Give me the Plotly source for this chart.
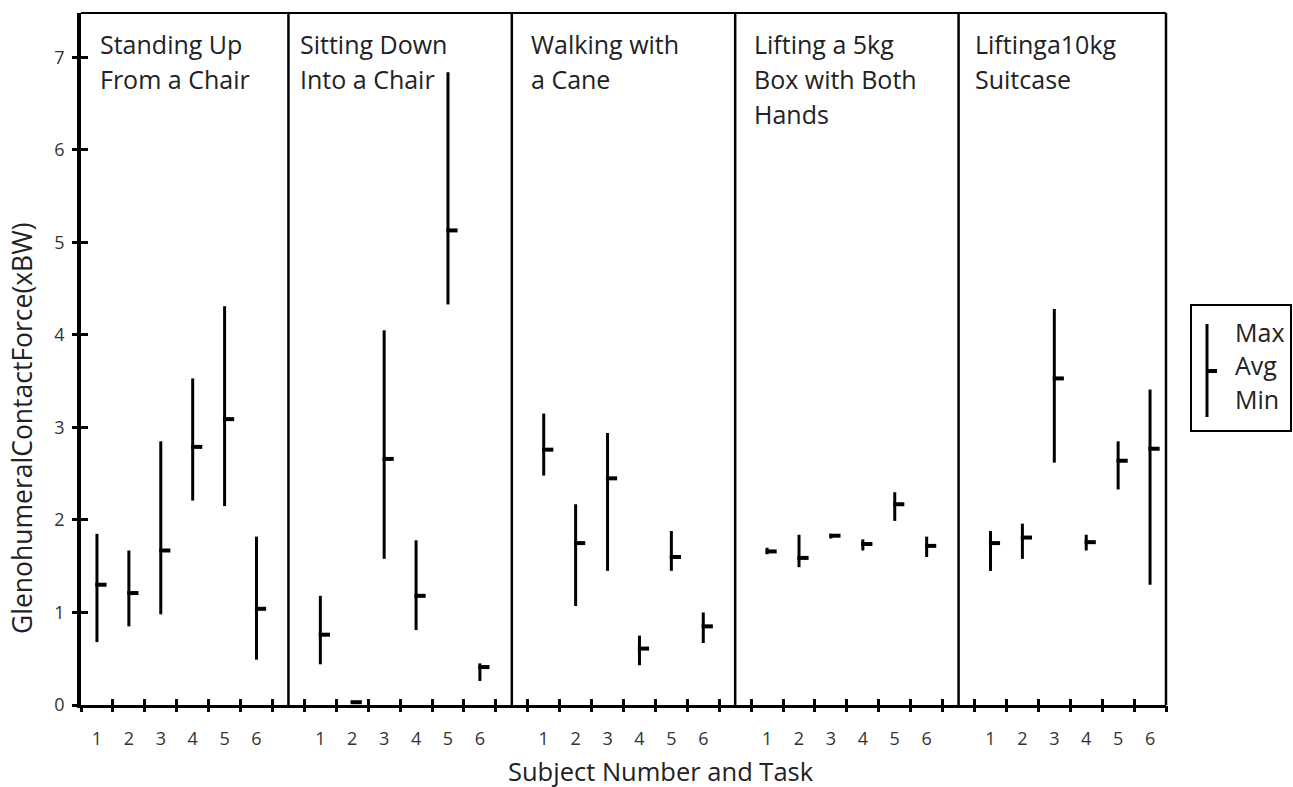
import plotly.graph_objects as go

# ---------------- data ----------------
subjects = [1, 2, 3, 4, 5, 6]
task_titles = [
    ["Standing Up", "From a Chair"],
    ["Sitting Down", "Into a Chair"],
    ["Walking with", "a Cane"],
    ["Lifting a 5kg", "Box with Both", "Hands"],
    ["Liftinga10kg", "Suitcase"],
]
stand_max = [1.85, 1.67, 2.85, 3.53, 4.31, 1.82]
stand_avg = [1.30, 1.21, 1.67, 2.79, 3.09, 1.04]
stand_min = [0.68, 0.85, 0.98, 2.21, 2.15, 0.49]

sit_max = [1.18, 0.04, 4.05, 1.78, 6.84, 0.45]
sit_avg = [0.76, 0.03, 2.66, 1.18, 5.13, 0.41]
sit_min = [0.44, 0.02, 1.58, 0.81, 4.33, 0.26]

walk_max = [3.15, 2.17, 2.94, 0.75, 1.88, 1.00]
walk_avg = [2.76, 1.75, 2.45, 0.61, 1.60, 0.85]
walk_min = [2.48, 1.07, 1.45, 0.43, 1.45, 0.67]

box_max = [1.70, 1.84, 1.85, 1.79, 2.30, 1.82]
box_avg = [1.66, 1.59, 1.83, 1.74, 2.17, 1.72]
box_min = [1.63, 1.49, 1.80, 1.67, 1.99, 1.60]

case_max = [1.88, 1.96, 4.28, 1.84, 2.85, 3.41]
case_avg = [1.75, 1.81, 3.53, 1.76, 2.64, 2.77]
case_min = [1.45, 1.58, 2.62, 1.67, 2.33, 1.30]

y_ticks = [0, 1, 2, 3, 4, 5, 6, 7]
legend_labels = ["Max", "Avg", "Min"]
x_title = "Subject Number and Task"
y_title = "GlenohumeralContactForce(xBW)"

series = [
    (stand_max, stand_avg, stand_min),
    (sit_max, sit_avg, sit_min),
    (walk_max, walk_avg, walk_min),
    (box_max, box_avg, box_min),
    (case_max, case_avg, case_min),
]

# ---------------- layout geometry ----------------
W, H = 1293, 787
L, R, T, B = 81, 127, 13, 82
PW, PH = W - L - R, H - T - B
GROUP = 7          # x units per task panel
XMAX = 34
YMAX = 7.48
FONT = "Open Sans"
TXT = "#222"


def px_x(px):
    return (px - L) / PW


def px_y(py):
    return (H - B - py) / PH


fig = go.Figure()

all_pos, all_lab = [], []
for p, (mx, av, mn) in enumerate(series):
    xs = [GROUP * p + s - 0.5 for s in subjects]
    all_pos += xs
    all_lab += [str(s) for s in subjects]
    fig.add_trace(go.Scatter(
        x=xs, y=av, mode="markers",
        marker=dict(size=1, color="rgba(0,0,0,0)"),
        error_y=dict(type="data", symmetric=False,
                     array=[a - b for a, b in zip(mx, av)],
                     arrayminus=[a - b for a, b in zip(av, mn)],
                     width=0, thickness=3, color="black"),
        showlegend=False, hoverinfo="skip"))
    fig.add_trace(go.Scatter(
        x=[x + 0.125 for x in xs], y=av, mode="markers",
        marker=dict(symbol="line-ew", size=8,
                    line=dict(width=4, color="black")),
        showlegend=False, hoverinfo="skip"))

# empty helper traces so the overlay tick axes are drawn
for xa, ya in (("x2", "y"), ("x3", "y"), ("x", "y2")):
    fig.add_trace(go.Scatter(x=[None], y=[None], xaxis=xa, yaxis=ya, mode="markers",
                             showlegend=False, hoverinfo="skip"))

shapes = []
# panel dividers
for p in range(1, len(series)):
    shapes.append(dict(type="line", xref="x", yref="paper",
                       x0=GROUP * p - 0.5, x1=GROUP * p - 0.5, y0=0, y1=1,
                       line=dict(color="black", width=2.5)))
# top and right border
shapes.append(dict(type="line", xref="paper", yref="paper", x0=0, x1=1, y0=1, y1=1,
                   line=dict(color="black", width=2)))
shapes.append(dict(type="line", xref="paper", yref="paper", x0=1, x1=1, y0=0, y1=1,
                   line=dict(color="black", width=2.5)))
# legend box
shapes.append(dict(type="rect", xref="paper", yref="paper",
                   x0=px_x(1191), x1=px_x(1291), y0=px_y(431), y1=px_y(305),
                   line=dict(color="black", width=2), fillcolor="white"))
shapes.append(dict(type="line", xref="paper", yref="paper",
                   x0=px_x(1207), x1=px_x(1207), y0=px_y(417), y1=px_y(324),
                   line=dict(color="black", width=3)))
shapes.append(dict(type="line", xref="paper", yref="paper",
                   x0=px_x(1207), x1=px_x(1217), y0=px_y(371), y1=px_y(371),
                   line=dict(color="black", width=4)))

annotations = []
title_x_px = [98, 298, 529, 752, 973]
line_y_px = [44, 79, 114]
for p, lines in enumerate(task_titles):
    for k, t in enumerate(lines):
        annotations.append(dict(text=t, xref="paper", yref="paper",
                                x=px_x(title_x_px[p]), y=px_y(line_y_px[k]),
                                xanchor="left", yanchor="middle", showarrow=False,
                                font=dict(family=FONT, size=25, color=TXT)))
for k, t in enumerate(legend_labels):
    annotations.append(dict(text=t, xref="paper", yref="paper",
                            x=px_x(1233), y=px_y([332, 365, 399][k]),
                            xanchor="left", yanchor="middle", showarrow=False,
                            font=dict(family=FONT, size=25, color=TXT)))
annotations.append(dict(text=x_title, xref="paper", yref="paper",
                        x=px_x(661), y=px_y(771), xanchor="center", yanchor="middle",
                        showarrow=False, font=dict(family=FONT, size=25.5, color=TXT)))
annotations.append(dict(text=y_title, xref="paper", yref="paper",
                        x=px_x(22), y=px_y(428), xanchor="center", yanchor="middle",
                        textangle=-90, showarrow=False,
                        font=dict(family=FONT, size=26.5, color=TXT)))

int_ticks = list(range(0, XMAX + 1))
fig.update_layout(
    width=W, height=H,
    margin=dict(l=L, r=R, t=T, b=B, pad=0),
    paper_bgcolor="white", plot_bgcolor="white",
    font=dict(family=FONT, color=TXT),
    xaxis=dict(range=[0, XMAX], tickvals=all_pos, ticktext=all_lab, ticks="",
               showline=True, linewidth=3, linecolor="black", showgrid=False,
               zeroline=False, tickfont=dict(family=FONT, size=18, color="#333"),
               ticklabelstandoff=15, fixedrange=True),
    xaxis2=dict(overlaying="x", anchor="y", range=[0, XMAX], tickvals=int_ticks,
                ticks="outside", ticklen=6, tickwidth=3, tickcolor="black",
                showticklabels=False, showline=False, showgrid=False, zeroline=False),
    xaxis3=dict(overlaying="x", anchor="y", range=[0, XMAX], tickvals=int_ticks,
                ticks="inside", ticklen=6, tickwidth=3, tickcolor="black",
                showticklabels=False, showline=False, showgrid=False, zeroline=False),
    yaxis=dict(range=[0, YMAX], tickvals=y_ticks, ticks="outside", ticklen=5,
               tickwidth=3, tickcolor="black", showline=True, linewidth=3.5,
               linecolor="black", showgrid=False, zeroline=False,
               tickfont=dict(family=FONT, size=18, color="#333"),
               ticklabelstandoff=4),
    yaxis2=dict(overlaying="y", anchor="x", side="left", range=[0, YMAX],
                tickvals=y_ticks, ticks="inside", ticklen=7, tickwidth=3,
                tickcolor="black", showticklabels=False, showline=False,
                showgrid=False, zeroline=False),
    shapes=shapes,
    annotations=annotations,
    showlegend=False,
)

fig.write_html(
    "out.html",
    config={"displayModeBar": False},
    post_script="document.body.style.margin='0';document.body.style.overflow='hidden';",
)
